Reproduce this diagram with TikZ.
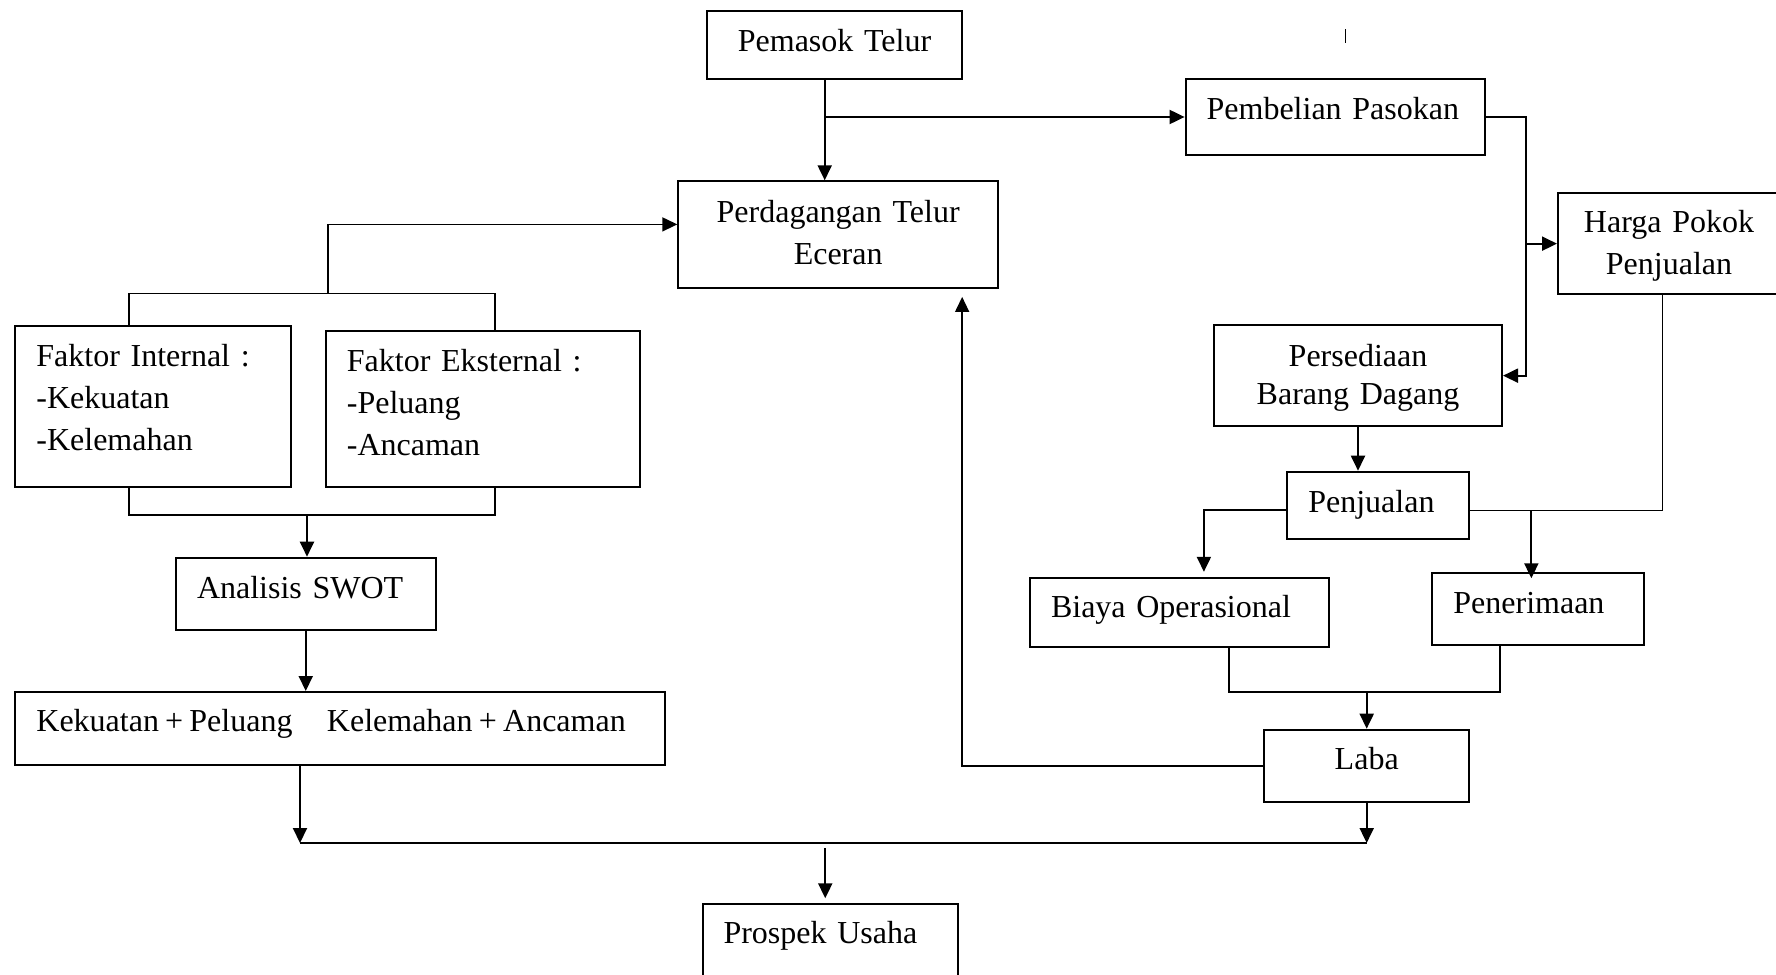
\documentclass[tikz,border=0pt]{standalone}
\usepackage{fontspec}
\setmainfont{Liberation Serif}
\usetikzlibrary{arrows.meta}
\begin{document}
\begin{tikzpicture}[line width=1pt,line join=miter,x=0.5pt,y=-0.5pt,
    kotak/.style={draw,anchor=north west,inner ysep=0pt,inner xsep=10.5pt,align=left,
        font=\fontsize{16}{21}\selectfont},
    tengah/.style={align=center,inner xsep=0pt},
    panah/.style={-{Triangle[length=7.5pt,width=7pt]}},
    tipis/.style={line width=0.75pt}]
    \useasboundingbox (0,0) rectangle (1776,974);
    % kotak-kotak
    \node[kotak,tengah,text width=127.5pt,text height=20.35pt,text depth=13.8pt] (pemasok) at (706,10) {Pemasok Telur};
    \node[kotak,tengah,text width=159.85pt,text height=20.7pt,text depth=32.8pt] (perdagangan) at (677.3,180.3) {Perdagangan Telur\\Eceran};
    \node[kotak,text width=128.7pt,text height=20pt,text depth=17.7pt] (pembelian) at (1184.6,78.3) {Pembelian Pasokan};
    \node[kotak,tengah,text width=111pt,text height=19.85pt,text depth=30.8pt] (harga) at (1557,192) {Harga Pokok\\Penjualan};
    \node[kotak,tengah,text width=144pt,text height=20.35pt,text depth=30pt] (persediaan) at (1213,324.3) {Persediaan\\[-2pt]Barang Dagang};
    \node[kotak,text width=69.85pt,text height=20.15pt,text depth=13.35pt] (penjualan) at (1286.3,470.7) {Penjualan};
    \node[kotak,text width=128.5pt,text height=19.85pt,text depth=14.65pt] (biaya) at (1029,577) {Biaya Operasional};
    \node[kotak,text width=84.75pt,text height=19.85pt,text depth=16.15pt] (penerimaan) at (1431.4,572.3) {Penerimaan};
    \node[kotak,tengah,text width=102.3pt,text height=20pt,text depth=16.15pt] (laba) at (1263.4,728.7) {Laba};
    \node[kotak,text width=116.75pt,text height=20pt,text depth=60.35pt] (internal) at (14.4,325) {Faktor Internal :\\-Kekuatan\\-Kelemahan};
    \node[kotak,text width=135.9pt,text height=20pt,text depth=57.85pt] (eksternal) at (324.9,330) {Faktor Eksternal :\\-Peluang\\-Ancaman};
    \node[kotak,text width=108.75pt,text height=20.3pt,text depth=15.85pt] (swot) at (175,556.7) {Analisis SWOT};
    \node[kotak,text width=303.8pt,text height=19.85pt,text depth=16.65pt] (kekuatan) at (14.4,691) {Kekuatan\hspace{3.1pt}+\hspace{3.1pt}Peluang\hspace{17.2pt}Kelemahan\hspace{3.1pt}+\hspace{3.1pt}Ancaman};
    \node[kotak,text width=106.75pt,text height=19.7pt,text depth=23.65pt] (prospek) at (701.5,903.3) {Prospek Usaha};
    % titik simpul
    \coordinate (simpul1) at (327.8,293.3);
    \coordinate (simpul2) at (307,515);
    \coordinate (cab1) at ([xshift=-4.9pt]pemasok.south |- pembelian.west);
    \coordinate (jual-ka) at ([yshift=-2.7pt]penjualan.east);
    \coordinate (jual-ki) at ([yshift=-2.5pt]penjualan.west);
    \coordinate (gab) at ([yshift=18.2pt]laba.north);
    \coordinate (gab2) at ([yshift=-20pt]laba.south);
    \coordinate (turun) at ([yshift=-2.5pt]gab2);
    % alur kanan
    \draw[panah] ([xshift=-4.9pt]pemasok.south) -- ([xshift=-4.9pt]pemasok.south |- perdagangan.north);
    \draw[panah] (cab1) -- (pembelian.west);
    \draw[panah] (pembelian.east) -- ++(40,0) |- (persediaan.east);
    \draw[panah] ([xshift=20pt]pembelian.east |- harga.west) -- (harga.west);
    \draw[panah] (persediaan.south) -- (persediaan.south |- penjualan.north);
    \draw[tipis] ([xshift=-3.2pt]harga.south) |- (jual-ka);
    \draw[panah] (jual-ki) -| ([xshift=12.2pt,yshift=2.6pt]biaya.north);
    \draw[panah] ([xshift=-3.4pt]penerimaan.north |- jual-ka) -- ([xshift=-3.4pt,yshift=-3pt]penerimaan.north);
    \draw ([xshift=24.8pt]biaya.south) |- ([xshift=-19.1pt]penerimaan.south |- gab) -- ([xshift=-19.1pt]penerimaan.south);
    \draw[panah] (gab) -- (laba.north);
    \draw[panah,tipis] (laba.west) -| ([xshift=62pt,yshift=-3.8pt]perdagangan.south);
    \draw[panah] (laba.south) -- (gab2);
    % alur kiri
    \draw[tipis] ([xshift=-12.1pt]internal.north) |- ([xshift=6.2pt]eksternal.north |- simpul1) -- ([xshift=6.2pt]eksternal.north);
    \draw[panah,tipis] (simpul1) |- ([yshift=5.2pt]perdagangan.west);
    \draw[tipis] ([xshift=-12.1pt]internal.south) |- ([xshift=6.2pt]eksternal.south |- simpul2) -- ([xshift=6.2pt]eksternal.south);
    \draw[panah] (simpul2) -- (simpul2 |- swot.north);
    \draw[panah] (swot.south) -- (swot.south |- kekuatan.north);
    \draw[panah] ([xshift=-20.1pt]kekuatan.south) -- ([xshift=-20.1pt]kekuatan.south |- gab2);
    \draw ([xshift=-20.1pt]kekuatan.south |- gab2) -- (gab2);
    \draw[panah] ([xshift=-2.5pt]prospek.north |- turun) -- ([xshift=-2.5pt,yshift=2.5pt]prospek.north);
    \draw[line width=0.5pt] (1345.7,29.3) -- (1345.7,43.3);
\end{tikzpicture}
\end{document}
